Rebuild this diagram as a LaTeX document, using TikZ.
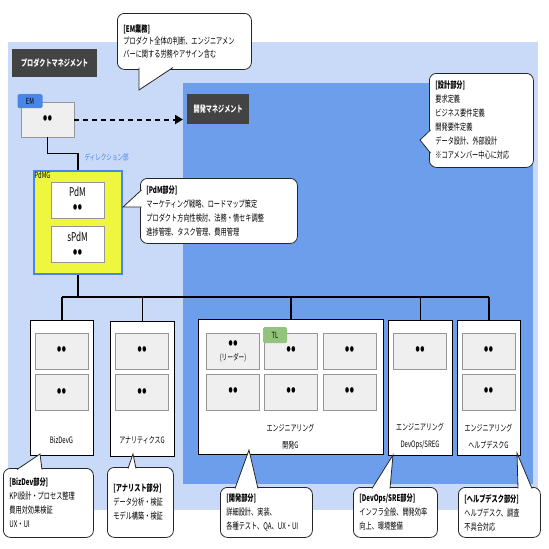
\documentclass[tikz,border=0pt]{standalone}
\usepackage{fontspec}
\setmainfont[FakeStretch=0.68]{Noto Sans CJK JP}
\usetikzlibrary{arrows.meta}

\definecolor{pmblue}{RGB}{201,218,248}
\definecolor{devblue}{RGB}{109,158,235}
\definecolor{labelgray}{RGB}{67,67,67}
\definecolor{membergray}{RGB}{239,239,239}
\definecolor{memberline}{RGB}{150,150,150}
\definecolor{tagblue}{RGB}{74,134,232}
\definecolor{pdmyellow}{RGB}{238,246,62}
\definecolor{tlgreen}{RGB}{147,196,125}

\tikzset{
  area/.style={anchor=north west, inner sep=0pt},
  area label/.style={anchor=north west, fill=labelgray, text=white,
    font=\fontsize{9}{10}\selectfont\bfseries, minimum height=28pt},
  member/.style={draw=memberline, fill=membergray, line width=.8pt,
    minimum width=53pt, minimum height=36pt, align=center,
    font=\fontsize{17}{14}\selectfont\bfseries},
  pdmbox/.style={draw=memberline, fill=white, line width=.8pt,
    minimum width=53pt, minimum height=36pt, align=center,
    font=\fontsize{12}{16}\selectfont},
  group/.style={anchor=north west, draw=black, fill=white, line width=.7pt},
  group name/.style={font=\fontsize{8.8}{17}\selectfont, align=center},
  note/.style={anchor=north west, draw=black!85, fill=white, line width=.8pt,
    rounded corners=7pt, align=left, inner xsep=6pt,
    font=\fontsize{9.1}{14}\selectfont},
  note line/.style={draw=black!85, line width=.8pt},
  tag/.style={rounded corners=1.5pt, inner sep=0pt, minimum width=25pt,
    minimum height=14pt, font=\fontsize{8.5}{8}\selectfont},
  tree/.style={line width=1.3pt},
  bus/.style={line width=2.4pt},
  plan arrow/.style={line width=2pt, dash pattern=on 5pt off 4pt,
    -{Triangle[length=8pt,width=9pt]}}
}

% pointer of a speech bubble: base point, base point, tip
\newcommand{\notetail}[3]{%
  \fill[white] #1 -- #3 -- #2 -- cycle;
  \draw[note line] #1 -- #3 -- #2;}

\begin{document}
\begin{tikzpicture}[x=1pt,y=-1pt]
\useasboundingbox (0,0) rectangle (549,549);

% areas
\node[area, fill=pmblue, minimum width=530pt, minimum height=468pt] (pm) at (8,42) {};
\node[area, fill=devblue, minimum width=350pt, minimum height=401pt] (dev) at (183,83) {};
\node[area label, minimum width=85pt] (pmlabel) at (12,49) {プロダクトマネジメント};
\node[area label, minimum width=62pt, minimum height=30pt] (devlabel) at (187,94) {開発マネジメント};

% EM
\node[member, minimum height=35pt] (em) at (47.5,119.5) {••};
\node[tag, fill=tagblue] (emtag) at (30,101) {EM};
\draw[plan arrow] (em.east) -- (em.east -| dev.west);

% PdMG
\node[
      draw=tagblue,
      line width=2pt,
      fill=pdmyellow,
      minimum width=88pt,
      minimum height=103pt,
      label={[anchor=north west, inner sep=1.5pt, font=\fontsize{8.5}{8}\selectfont]north west:PdMG}
] (pdmg) at (78,222.5) {};
\node[pdmbox] (pdm) at (77.5,200) {PdM\\{\fontsize{17}{13}\selectfont\bfseries ••}};
\node[pdmbox] (spdm) at (77.5,244.5) {sPdM\\{\fontsize{17}{13}\selectfont\bfseries ••}};

\draw[tree] (em.south) -- ++(0,16) -| (pdmg.north);
\node[anchor=west, text=tagblue, font=\fontsize{8.2}{8}\selectfont] (dirlabel) at (81,157) {ディレクション部};

% groups
\node[group, minimum width=63pt, minimum height=135pt] (bizdev) at (30,320) {};
\node[group, minimum width=64pt, minimum height=135pt] (analytics) at (110,321) {};
\node[group, minimum width=185pt, minimum height=135pt] (eng) at (198,319) {};
\node[group, minimum width=64pt, minimum height=135pt] (devops) at (388,320) {};
\node[group, minimum width=63pt, minimum height=135pt] (help) at (457,320) {};

\coordinate (busline) at (0,297);
\draw[tree] (pdmg.south) -- (pdmg.south |- busline);
\draw[bus] (bizdev.north |- busline) -- (help.north |- busline);
\foreach \g in {bizdev,analytics,eng,devops,help}
  \draw[tree] (\g.north |- busline) -- (\g.north);

% members
\node[member] (bizdev1) at (61.5,351) {••};
\node[member] (bizdev2) at (61.5,392.5) {••};
\node[member] (analytics1) at (142,351) {••};
\node[member] (analytics2) at (142,392.5) {••};
\node[member] (eng1) at (233,351) {••\\[-2pt]{\fontsize{8.3}{9}\selectfont\mdseries (リーダー)}};
\node[member] (eng2) at (291,351) {••};
\node[member] (eng3) at (349.5,351) {••};
\node[member] (eng4) at (233,392) {••};
\node[member] (eng5) at (291,392) {••};
\node[member] (eng6) at (349.5,392) {••};
\node[tag, fill=tlgreen, minimum width=24pt, minimum height=16pt] (tltag) at (275,335) {TL};
\node[member] (devops1) at (420,351) {••};
\node[member] (help1) at (488.5,351) {••};
\node[member] (help2) at (488.5,392) {••};

\node[group name] (bizdevname) at (61.5,440) {BizDevG};
\node[group name] (analyticsname) at (142,440) {アナリティクスG};
\node[group name] (engname) at (290.5,436.5) {エンジニアリング\\開発G};
\node[group name] (devopsname) at (420,436.5) {エンジニアリング\\DevOps/SREG};
\node[group name] (helpname) at (488.5,436.5) {エンジニアリング\\ヘルプデスクG};

% speech bubbles
\node[note, text width=122pt, minimum height=56pt, font=\fontsize{9.1}{12.5}\selectfont] (emnote) at (117,13)
  {\textbf{[EM業務]}\\プロダクト全体の判断、エンジニアメン\\バーに関する労務やアサイン含む};
\notetail{(139,67.5)}{(173,67.5)}{(139,90)}

\node[note, text width=145pt, minimum height=65pt] (pdmnote) at (140,178)
  {\textbf{[PdM部分]}\\マーケティング戦略、ロードマップ策定\\プロダクト方向性検討、法務・情セキ調整\\進捗管理、タスク管理、費用管理};
\notetail{(141.5,190)}{(141.5,207)}{(pdmg.east |- 0,207)}

\node[note, text width=92pt, minimum height=94pt] (designnote) at (429,73)
  {\textbf{[設計部分]}\\要求定義\\ビジネス要件定義\\開発要件定義\\データ設計、外部設計\\※コアメンバー中心に対応};
\notetail{(430.5,130)}{(430.5,153)}{(420,140)}

\node[note, text width=78pt, minimum height=69pt] (bizdevnote) at (3,468)
  {\textbf{[BizDev部分]}\\KPI設計・プロセス整理\\費用対効果検証\\UX・UI};
\notetail{(17,469.5)}{(42,469.5)}{(40,454)}

\node[note, text width=54pt, minimum height=70pt] (analyticsnote) at (107,467)
  {\textbf{[アナリスト部分]}\\データ分析・検証\\モデル構築・検証};
\notetail{(128,468.5)}{(136,468.5)}{(133,454)}

\node[note, text width=80pt, minimum height=50pt] (engnote) at (220,487)
  {\textbf{[開発部分]}\\詳細設計、実装、\\各種テスト、QA、UX・UI};
\notetail{(235,488.5)}{(258,488.5)}{(249,450)}

\node[note, text width=72pt, minimum height=50pt] (devopsnote) at (353,487)
  {\textbf{[DevOps/SRE部分]}\\インフラ全般、開発効率\\向上、環境整備};
\notetail{(372,488.5)}{(390,488.5)}{(393,455)}

\node[note, text width=70pt, minimum height=50pt] (helpnote) at (458,487)
  {\textbf{[ヘルプデスク部分]}\\ヘルプデスク、調査\\不具合対応};
\notetail{(518,488.5)}{(532,488.5)}{(517,453)}
\end{tikzpicture}
\end{document}
